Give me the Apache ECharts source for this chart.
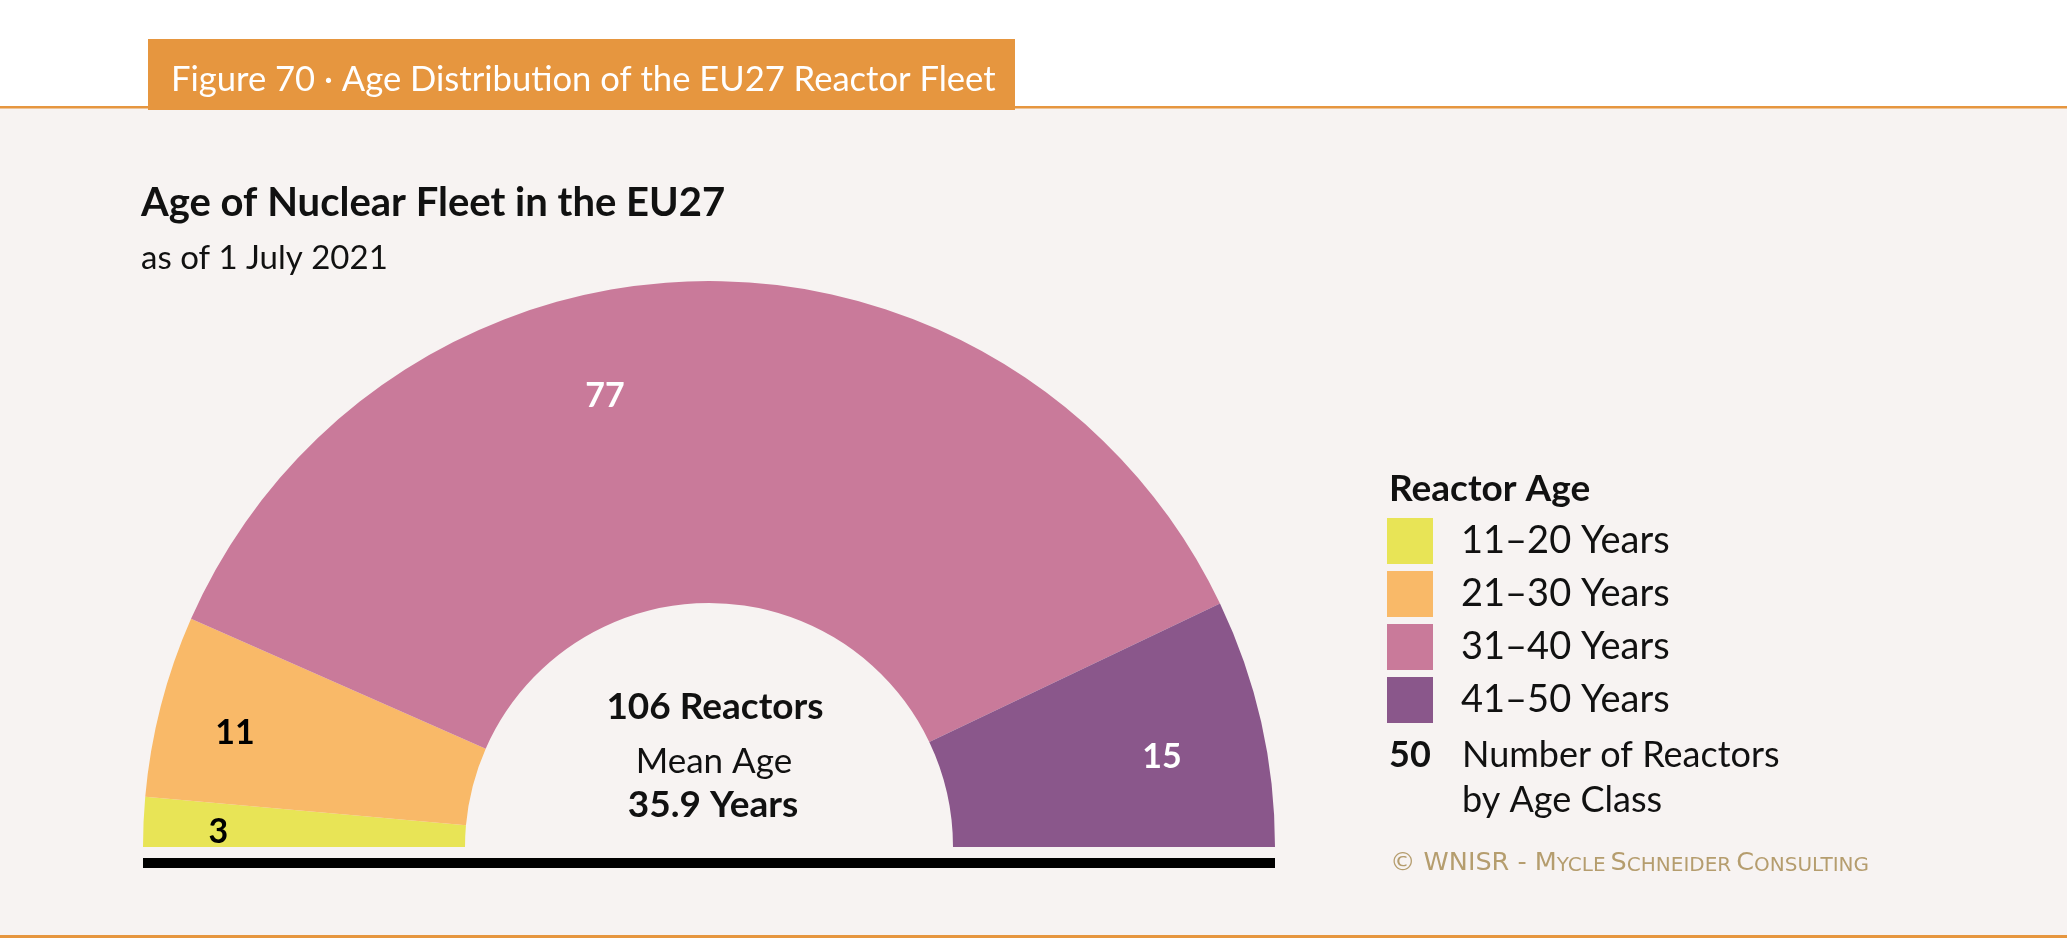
<!DOCTYPE html>
<html>
<head>
<meta charset="utf-8">
<script src="https://cdn.jsdelivr.net/npm/echarts@6/dist/echarts.min.js"></script>
<style>
html, body { margin: 0; padding: 0; background: #fff; }
#chart { width: 2067px; height: 939px; }
</style>
</head>
<body>
<div id="chart"></div>
<script>
// data
const ageClasses = ["11–20 Years", "21–30 Years", "31–40 Years", "41–50 Years"];
const reactorCounts = [3, 11, 77, 15];
const meanAge = 35.9;

const classColors = ["#E8E456", "#F9B968", "#C97A9A", "#8A578B"];
const labelColors = ["#000", "#000", "#fff", "#fff"];
// nudges from the default "inside" label spot
const labelShift = [[-83, 3], [-79, -12], [-98, -43], [55, 0]];

const FONT = "Lato";
const totalReactors = reactorCounts.reduce((a, b) => a + b, 0);

const chart = echarts.init(document.getElementById("chart"));

function txt(x, y, text, size, opts) {
  return {
    type: "text",
    x: x,
    y: y,
    style: Object.assign({
      text: text,
      fontFamily: FONT,
      fontSize: size,
      fill: "#111",
      verticalAlign: "middle",
    }, opts || {}),
  };
}

chart.setOption({
  animation: false,
  backgroundColor: "#fff",
  title: {
    // small-caps credit line
    text: "{a|© WNISR - M}{b|YCLE} {a|S}{b|CHNEIDER} {a|C}{b|ONSULTING}",
    left: 1390,
    top: 849,
    padding: 0,
    textStyle: {
      fontWeight: "normal",
      rich: {
        a: { fontFamily: "DejaVu Sans", fontWeight: "normal", fontSize: 25.5, color: "#B59D6E", lineHeight: 27, verticalAlign: "bottom" },
        b: { fontFamily: "DejaVu Sans", fontWeight: "normal", fontSize: 20, color: "#B59D6E", lineHeight: 27, verticalAlign: "bottom" },
      },
    },
  },
  legend: {
    orient: "vertical",
    left: 1387,
    top: 518,
    padding: 0,
    itemWidth: 46,
    itemHeight: 46,
    itemGap: 7,
    icon: "rect",
    selectedMode: false,
    data: ageClasses,
    textStyle: {
      fontFamily: FONT,
      fontSize: 38,
      color: "#111",
      padding: [0, 0, 0, 23],
    },
  },
  graphic: [
    { type: "rect", z: -10, shape: { x: 0, y: 108, width: 2067, height: 828 }, style: { fill: "#F7F3F2" } },
    { type: "rect", z: -9, shape: { x: 0, y: 106, width: 2067, height: 2.5 }, style: { fill: "#E6963F" } },
    { type: "rect", z: -9, shape: { x: 0, y: 935, width: 2067, height: 3 }, style: { fill: "#E6963F" } },
    { type: "rect", z: -8, shape: { x: 148, y: 39, width: 867, height: 71 }, style: { fill: "#E6963F" } },
    txt(171, 80, "Figure 70 · Age Distribution of the EU27 Reactor Fleet", 34.6, { fill: "#fff" }),
    txt(141, 203, "Age of Nuclear Fleet in the EU27", 40, { fontWeight: "bold" }),
    txt(141, 258, "as of 1 July 2021", 33),
    txt(1389, 489, "Reactor Age", 37, { fontWeight: "bold" }),
    txt(1389, 755, "50", 36, { fontWeight: "bold" }),
    txt(1462, 755, "Number of Reactors", 36),
    txt(1462, 800, "by Age Class", 36),
    txt(715, 707, totalReactors + " Reactors", 37, { fontWeight: "bold", align: "center" }),
    txt(714, 762, "Mean Age", 35, { align: "center" }),
    txt(713, 805, meanAge.toFixed(1) + " Years", 37, { fontWeight: "bold", align: "center" }),
    { type: "rect", shape: { x: 143, y: 858, width: 1132, height: 10 }, style: { fill: "#000" } },
  ],
  series: [
    {
      type: "pie",
      center: [709, 847],
      radius: [244, 566],
      startAngle: 180,
      endAngle: 0,
      clockwise: true,
      avoidLabelOverlap: false,
      silent: true,
      label: {
        show: true,
        position: "inside",
        fontFamily: FONT,
        fontSize: 34,
        fontWeight: "bold",
        formatter: "{c}",
      },
      labelLine: { show: false },
      labelLayout: function (p) {
        const s = labelShift[p.dataIndex];
        return { dx: s[0], dy: s[1] };
      },
      data: ageClasses.map((name, i) => ({
        name: name,
        value: reactorCounts[i],
        itemStyle: { color: classColors[i] },
        label: { color: labelColors[i] },
      })),
    },
  ],
});
</script>
</body>
</html>
